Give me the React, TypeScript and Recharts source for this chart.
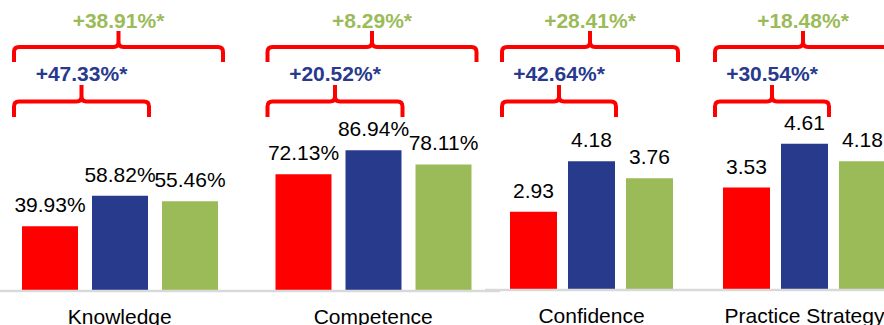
import { BarChart, Bar, XAxis, YAxis, LabelList } from "recharts";

// percentage outcomes (left half)
const pctCategories = ["Knowledge", "Competence"];
const pctRed = [39.93, 72.13];
const pctBlue = [58.82, 86.94];
const pctGreen = [55.46, 78.11];
const pctBlueGain = ["+47.33%*", "+20.52%*"];
const pctGreenGain = ["+38.91%*", "+8.29%*"];

// 1-5 scale outcomes (right half)
const scoreCategories = ["Confidence", "Practice Strategy"];
const scoreRed = [2.93, 3.53];
const scoreBlue = [4.18, 4.61];
const scoreGreen = [3.76, 4.18];
const scoreBlueGain = ["+42.64%*", "+30.54%*"];
const scoreGreenGain = ["+28.41%*", "+18.48%*"];

const RED = "#ff0000";
const BLUE = "#283a8c";
const GREEN = "#9bbb59";
const FONT = "'Liberation Sans', Arial, sans-serif";

const buildRows = (
  cats: string[],
  red: number[],
  blue: number[],
  green: number[],
  blueGain: string[],
  greenGain: string[]
) =>
  cats.map((name, i) => ({
    name,
    red: red[i],
    blue: blue[i],
    green: green[i],
    blueGain: blueGain[i],
    greenGain: greenGain[i],
  }));

const pctRows = buildRows(pctCategories, pctRed, pctBlue, pctGreen, pctBlueGain, pctGreenGain);
const scoreRows = buildRows(scoreCategories, scoreRed, scoreBlue, scoreGreen, scoreBlueGain, scoreGreenGain);

// red bracket from the red bar to the blue (span 2) or green (span 3) bar
const makeBracket =
  (span: number, barSize: number, barGap: number, color: string, lineY: number, endY: number, tickTop: number, labelY: number, extra: number) =>
  (props: any) => {
    const vb = props.viewBox ?? props;
    const x = Number(vb.x ?? props.x);
    const left = x - 8;
    const right = x + span * barSize + (span - 1) * barGap + extra;
    const mid = (left + right) / 2;
    const r = 5;
    const d = [
      `M${left},${endY} V${lineY + r} Q${left},${lineY} ${left + r},${lineY}`,
      `H${mid - r} Q${mid},${lineY} ${mid},${lineY - r} V${tickTop}`,
      `M${mid},${lineY - r} Q${mid},${lineY} ${mid + r},${lineY}`,
      `H${right - r} Q${right},${lineY} ${right},${lineY + r} V${endY}`,
    ].join(" ");
    return (
      <g>
        <path d={d} fill="none" stroke={RED} strokeWidth={4} />
        <text x={mid} y={labelY} textAnchor="middle" fontFamily={FONT} fontWeight="bold" fontSize={21} fill={color}>
          {props.value}
        </text>
      </g>
    );
  };

const renderTick = (props: any) => (
  <text x={props.x} y={props.y + 33} textAnchor="middle" fontFamily={FONT} fontSize={21} fill="#000">
    {props.payload.value}
  </text>
);

function Group({
  rows,
  left,
  width,
  top,
  axisH,
  domain,
  barSize,
  barGap,
  fmt,
}: {
  rows: any[];
  left: number;
  width: number;
  top: number;
  axisH: number;
  domain: [number, number];
  barSize: number;
  barGap: number;
  fmt: (v: any) => string;
}) {
  const valueLabel = { position: "top" as const, offset: 14, fill: "#000", fontSize: 21, fontFamily: FONT, formatter: fmt };
  return (
    <div style={{ position: "absolute", left, top: 0 }}>
      <BarChart width={width} height={325} data={rows} margin={{ top, right: 0, bottom: 0, left: 0 }} barSize={barSize} barGap={barGap}>
        <XAxis
          dataKey="name"
          height={axisH}
          tickSize={0}
          tickMargin={0}
          tickLine={false}
          axisLine={{ stroke: "#d9d9d9", strokeWidth: 2.5 }}
          tick={renderTick}
          interval={0}
        />
        <YAxis hide domain={domain} />
        <Bar dataKey="red" fill={RED} isAnimationActive={false}>
          <LabelList dataKey="red" {...valueLabel} />
          <LabelList dataKey="blueGain" content={makeBracket(2, barSize, barGap, BLUE, 101.5, 117, 85, 81, 1)} />
          <LabelList dataKey="greenGain" content={makeBracket(3, barSize, barGap, GREEN, 47, 62, 31, 28, 5)} />
        </Bar>
        <Bar dataKey="blue" fill={BLUE} isAnimationActive={false}>
          <LabelList dataKey="blue" {...valueLabel} />
        </Bar>
        <Bar dataKey="green" fill={GREEN} isAnimationActive={false}>
          <LabelList dataKey="green" {...valueLabel} />
        </Bar>
      </BarChart>
    </div>
  );
}

export default function App() {
  return (
    <div
      style={{
        position: "absolute",
        left: 0,
        top: 0,
        width: 884,
        height: 325,
        overflow: "hidden",
        background: "#fff",
        fontFamily: FONT,
      }}
    >
      <Group
        rows={pctRows}
        left={-7}
        width={507}
        top={129}
        axisH={34}
        domain={[0, 100]}
        barSize={56}
        barGap={14}
        fmt={(v) => `${Number(v).toFixed(2)}%`}
      />
      <Group
        rows={scoreRows}
        left={485}
        width={426}
        top={128}
        axisH={35}
        domain={[1, 5]}
        barSize={47}
        barGap={11}
        fmt={(v) => Number(v).toFixed(2)}
      />
    </div>
  );
}
